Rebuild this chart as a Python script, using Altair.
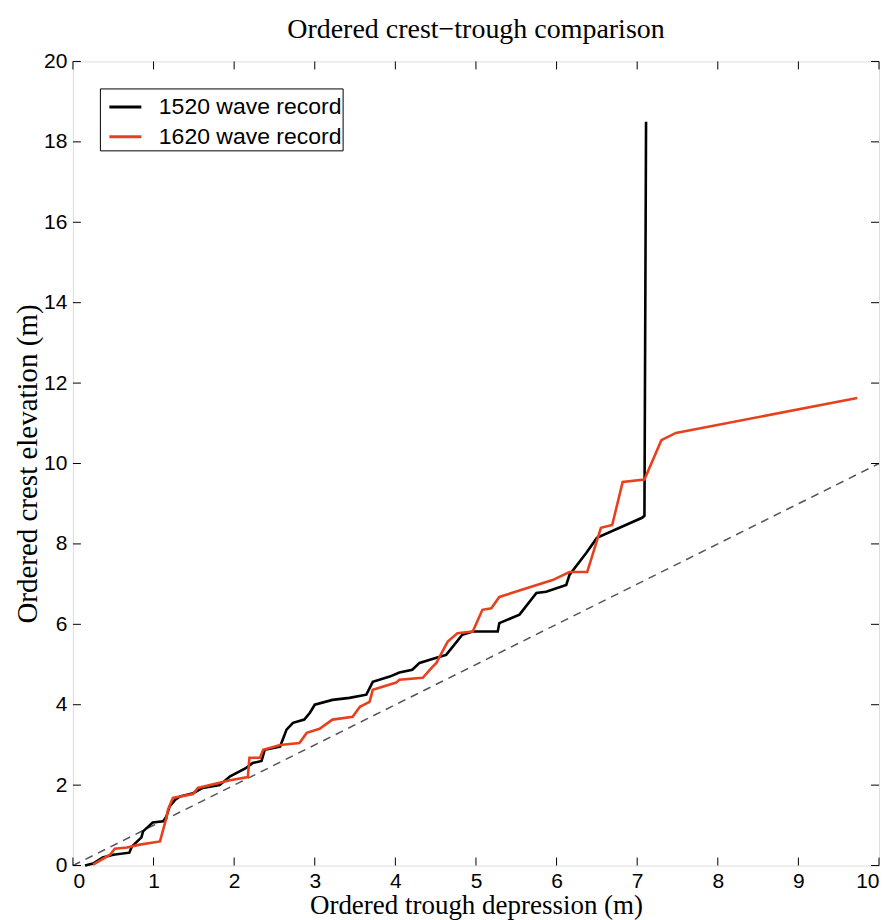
import altair as alt
import pandas as pd

# 1520 wave record (black)
x1520 = [0.15, 0.25, 0.37, 0.5, 0.7, 0.73, 0.85, 0.87, 0.99, 1.12, 1.16, 1.2, 1.27, 1.33, 1.49, 1.61,
         1.82, 1.95, 2.15, 2.23, 2.34, 2.38, 2.57, 2.65, 2.73, 2.87, 2.94, 3.0, 3.22, 3.43, 3.64, 3.72,
         3.93, 4.05, 4.21, 4.3, 4.51, 4.63, 4.71, 4.83, 4.96, 5.27, 5.29, 5.54, 5.75, 5.87, 6.12, 6.16,
         6.37, 6.5, 7.06, 7.09, 7.11]
y1520 = [0.0, 0.05, 0.2, 0.27, 0.32, 0.47, 0.7, 0.85, 1.07, 1.1, 1.22, 1.47, 1.64, 1.72, 1.8, 1.93,
         2.0, 2.22, 2.43, 2.55, 2.6, 2.88, 2.96, 3.38, 3.55, 3.63, 3.8, 4.0, 4.12, 4.17, 4.25, 4.57,
         4.7, 4.8, 4.87, 5.04, 5.17, 5.24, 5.44, 5.74, 5.82, 5.82, 6.03, 6.24, 6.78, 6.81, 6.98, 7.23,
         7.78, 8.15, 8.65, 8.7, 18.5]

# 1620 wave record (red)
x1620 = [0.25, 0.46, 0.52, 0.67, 0.83, 1.08, 1.16, 1.18, 1.24, 1.49, 1.55, 1.70, 1.95, 2.17, 2.19,
         2.32, 2.36, 2.57, 2.81, 2.9, 3.06, 3.22, 3.47, 3.56, 3.68, 3.72, 4.01, 4.05, 4.34, 4.46, 4.51,
         4.55, 4.65, 4.77, 4.96, 5.08, 5.19, 5.29, 5.95, 6.16, 6.38, 6.55, 6.69, 6.82, 7.09, 7.3, 7.48,
         9.73]
y1620 = [0.02, 0.27, 0.42, 0.45, 0.52, 0.6, 1.19, 1.39, 1.68, 1.78, 1.93, 2.0, 2.12, 2.2, 2.68,
         2.68, 2.88, 3.0, 3.05, 3.3, 3.4, 3.63, 3.7, 3.95, 4.07, 4.37, 4.55, 4.62, 4.67, 4.94, 5.04,
         5.2, 5.57, 5.78, 5.82, 6.36, 6.4, 6.68, 7.1, 7.3, 7.3, 8.4, 8.47, 9.54, 9.6, 10.58, 10.76,
         11.63]

ref_x = [0, 10]
ref_y = [0, 10]

series_names = ["1520 wave record", "1620 wave record"]
series_colors = ["#000000", "#e8401c"]
x_ticks = list(range(0, 11))
y_ticks = list(range(0, 21, 2))

W, H = 807, 805

df = pd.concat([
    pd.DataFrame({"x": x1520, "y": y1520, "s": series_names[0], "i": range(len(x1520))}),
    pd.DataFrame({"x": x1620, "y": y1620, "s": series_names[1], "i": range(len(x1620))}),
])
ref = pd.DataFrame({"x": ref_x, "y": ref_y})
xt = pd.DataFrame({"v": x_ticks})
yt = pd.DataFrame({"v": y_ticks})

xs = alt.Scale(domain=[0, 10], nice=False)
ys = alt.Scale(domain=[0, 20], nice=False)

xaxis = alt.Axis(values=x_ticks, format="d", ticks=False, tickSize=0, domain=False, grid=False,
                 labelFont="Liberation Sans", labelFontSize=21, labelColor="black",
                 labelPadding=5, title="Ordered trough depression (m)",
                 titleFont="Liberation Serif", titleFontSize=27, titleFontWeight="normal",
                 titleColor="black", titlePadding=1)
yaxis = alt.Axis(values=y_ticks, format="d", ticks=False, tickSize=0, domain=False, grid=False,
                 labelFont="Liberation Sans", labelFontSize=21, labelColor="black",
                 labelPadding=6, title="Ordered crest elevation (m)",
                 titleFont="Liberation Serif", titleFontSize=29, titleFontWeight="normal",
                 titleColor="black", titlePadding=1)

dashed = alt.Chart(ref).mark_line(color="#555555", strokeDash=[8, 6], strokeWidth=1.5).encode(
    x=alt.X("x:Q", scale=xs, axis=xaxis),
    y=alt.Y("y:Q", scale=ys, axis=yaxis),
)

lines = alt.Chart(df).mark_line(strokeWidth=2.6).encode(
    x=alt.X("x:Q", scale=xs),
    y=alt.Y("y:Q", scale=ys),
    order="i:Q",
    color=alt.Color("s:N", scale=alt.Scale(domain=series_names, range=series_colors),
                    legend=alt.Legend(title=None, orient="none", legendX=27, legendY=27,
                                      symbolType="stroke", symbolSize=1024, symbolStrokeWidth=3,
                                      symbolOffset=7,
                                      labelFont="Liberation Sans", labelFontSize=23,
                                      labelColor="black", labelOffset=16,
                                      strokeColor="black", fillColor="white", padding=1,
                                      rowPadding=0, labelLimit=400)),
)

tick_len = 8
bt = alt.Chart(xt).mark_rule(color="black", strokeWidth=1).encode(
    x=alt.X("v:Q", scale=xs), y=alt.value(H), y2=alt.value(H - tick_len))
tt = alt.Chart(xt).mark_rule(color="black", strokeWidth=1).encode(
    x=alt.X("v:Q", scale=xs), y=alt.value(0), y2=alt.value(tick_len))
lt = alt.Chart(yt).mark_rule(color="black", strokeWidth=1).encode(
    y=alt.Y("v:Q", scale=ys), x=alt.value(0), x2=alt.value(tick_len))
rt = alt.Chart(yt).mark_rule(color="black", strokeWidth=1).encode(
    y=alt.Y("v:Q", scale=ys), x=alt.value(W), x2=alt.value(W - tick_len))

chart = alt.layer(dashed, bt, tt, lt, rt, lines).properties(
    width=W, height=H,
    title=alt.TitleParams("Ordered crest\u2212trough comparison", font="Liberation Serif",
                          fontSize=28, fontWeight="normal", color="black", offset=6),
    autosize=alt.AutoSizeParams(type="none"),
    padding={"left": 65, "top": 53, "right": 8, "bottom": 54},
).configure_view(stroke="black", strokeWidth=1.2).configure(background="white")

chart.save("out.html", embed_options={"renderer": "svg", "actions": False})
